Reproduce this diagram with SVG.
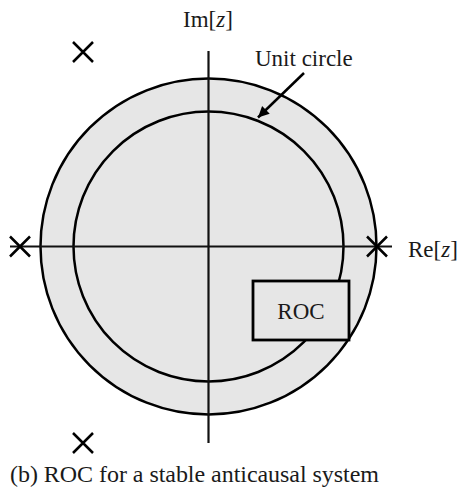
<svg xmlns="http://www.w3.org/2000/svg" width="460" height="488" viewBox="0 0 460 488">
<style>
.t{font-family:"Liberation Serif","Times New Roman",serif;font-size:23px;fill:#1a1a1a}
.c{stroke:#000;stroke-width:2.5}
.ax{stroke:#111;stroke-width:2.2;fill:none}
.x{stroke:#000;stroke-width:2.5;fill:none}
</style>
<defs>
<marker id="ah" viewBox="0 0 10 10" refX="10" refY="5" markerWidth="16" markerHeight="11" markerUnits="userSpaceOnUse" orient="auto">
<path d="M0,0 L10,5 L0,10 Z" fill="#000"/>
</marker>
</defs>
<g id="roc-region">
<circle cx="208.5" cy="246.5" r="168" class="c" style="fill:#e6e6e6"/>
</g>
<g id="unit-circle">
<circle cx="208.5" cy="246.5" r="135" class="c" style="fill:none"/>
</g>
<g id="axes">
<line x1="208.5" y1="51" x2="208.5" y2="443" class="ax"/>
<line x1="10" y1="246.5" x2="392" y2="246.5" class="ax"/>
</g>
<g id="poles">
<path class="x" d="M73,42 L93,62 M93,42 L73,62"/>
<path class="x" d="M10,236.5 L30,256.5 M30,236.5 L10,256.5"/>
<path class="x" d="M367,236.5 L387,256.5 M387,236.5 L367,256.5"/>
<path class="x" d="M73,433 L93,453 M93,433 L73,453"/>
</g>
<g id="connectors">
<line x1="304" y1="73" x2="258" y2="117.5" stroke="#000" stroke-width="2.5" marker-end="url(#ah)"/>
</g>
<g id="roc-box">
<rect x="253" y="281" width="96" height="59" fill="#e6e6e6" stroke="#000" stroke-width="2.8"/>
<text class="t" x="301" y="319" text-anchor="middle">ROC</text>
</g>
<g id="labels">
<text class="t" x="183" y="27">Im[<tspan font-style="italic">z</tspan>]</text>
<text class="t" x="255" y="66">Unit circle</text>
<text class="t" x="408" y="257">Re[<tspan font-style="italic">z</tspan>]</text>
<text class="t" x="10" y="482" style="font-size:24px" textLength="369" lengthAdjust="spacing">(b) ROC for a stable anticausal system</text>
</g>
</svg>
